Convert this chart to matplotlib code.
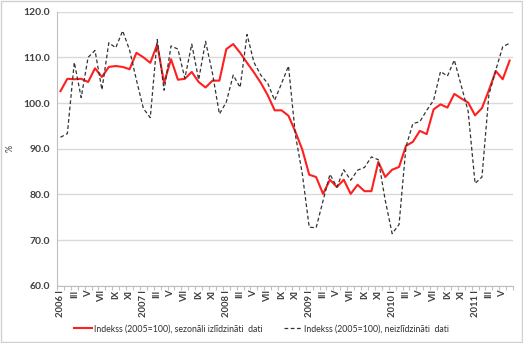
import matplotlib.pyplot as plt
from matplotlib.patches import Rectangle

# Monthly index values, 2006 I .. 2011 VI (2005 = 100)
months = list(range(66))

seasonally_adjusted = [
    102.6, 105.3, 105.2, 105.3, 104.6, 107.6, 105.7, 107.9, 108.1, 107.9, 107.4, 111.0,
    110.0, 108.8, 112.8, 104.4, 109.6, 105.1, 105.3, 106.8, 104.6, 103.4, 104.9, 104.9,
    111.8, 112.9, 111.0, 108.8, 106.7, 104.4, 101.7, 98.4, 98.4, 97.2, 93.7, 89.8,
    84.3, 83.8, 80.1, 83.2, 81.6, 83.2, 80.1, 82.1, 80.7, 80.7, 87.1, 83.8,
    85.4, 86.0, 90.6, 91.5, 93.9, 93.2, 98.6, 99.7, 99.0, 102.0, 101.0, 100.1,
    97.3, 98.9, 102.8, 107.0, 105.2, 109.3,
]

unadjusted = [
    92.5, 93.3, 108.9, 101.2, 110.0, 111.5, 102.9, 113.2, 112.1, 115.8, 111.6, 105.0,
    98.8, 96.8, 113.9, 102.8, 112.5, 111.8, 105.4, 112.9, 105.1, 113.5, 106.5, 97.6,
    100.2, 106.1, 103.4, 115.0, 108.9, 106.1, 104.3, 100.6, 104.3, 108.1, 93.0, 84.5,
    72.8, 72.7, 78.6, 84.4, 81.6, 85.4, 83.1, 85.3, 85.9, 88.2, 87.6, 78.7,
    71.4, 73.4, 90.4, 95.5, 95.9, 98.4, 100.6, 106.9, 105.9, 109.4, 103.8, 98.2,
    82.4, 83.8, 101.8, 107.2, 112.3, 113.1,
]

# every second month gets a label
tick_labels = [
    "2006 I", "III", "V", "VII", "IX", "XI",
    "2007 I", "III", "V", "VII", "IX", "XI",
    "2008 I", "III", "V", "VII", "IX", "XI",
    "2009 I", "III", "V", "VII", "IX", "XI",
    "2010 I", "III", "V", "VII", "IX", "XI",
    "2011 I", "III", "V",
]

plt.rcParams["font.family"] = ["Lato", "DejaVu Sans"]

fig = plt.figure(figsize=(5.23, 3.43), dpi=100)
ax = fig.add_axes([0.109, 0.167, 0.872, 0.799])

ax.plot(months, seasonally_adjusted, color="#ff1f1f", linewidth=1.5,
        label="Indekss (2005=100), sezonāli izlīdzināti  dati")
ax.plot(months, unadjusted, color="#333333", linewidth=0.9, linestyle=(0, (3, 2)),
        label="Indekss (2005=100), neizlīdzināti  dati")

ax.set_xlim(-0.5, 65.5)
ax.set_ylim(60, 120)
ax.set_yticks(range(60, 121, 10))
ax.set_yticklabels([f"{v:.1f}" for v in range(60, 121, 10)],
                   fontsize=7.5, fontweight="bold", color="#404040")
ax.yaxis.grid(True, color="#d9d9d9", linewidth=1.0)
ax.set_axisbelow(True)
ax.tick_params(axis="y", length=0, pad=5)

ax.set_xticks(months[::2])
ax.set_xticklabels(tick_labels, rotation=90, fontsize=6.8, fontweight="bold",
                   color="#404040")
ax.set_xticks([m - 0.5 for m in range(67)], minor=True)
ax.tick_params(axis="x", which="major", length=0, pad=3)
ax.tick_params(axis="x", which="minor", length=3, color="#bfbfbf", width=0.8)

for side in ["top", "right"]:
    ax.spines[side].set_visible(False)
ax.spines["left"].set_color("#bfbfbf")
ax.spines["bottom"].set_color("#bfbfbf")
ax.spines["left"].set_linewidth(0.8)
ax.spines["bottom"].set_linewidth(0.8)

ax.set_ylabel("%", fontsize=6.5, color="#404040", labelpad=6)

fig.legend(loc="center", bbox_to_anchor=(0.5, 0.042), ncol=2, frameon=False,
           handlelength=2.0, columnspacing=2.4, handletextpad=0.3,
           prop={"size": 6.3}, labelcolor="#303030")

# light frame round the whole chart
fig.patches.append(Rectangle((0.002, 0.003), 0.996, 0.994, transform=fig.transFigure,
                             fill=False, edgecolor="#d0d0d0", linewidth=1.0))

fig.savefig("out.png", dpi=100)
